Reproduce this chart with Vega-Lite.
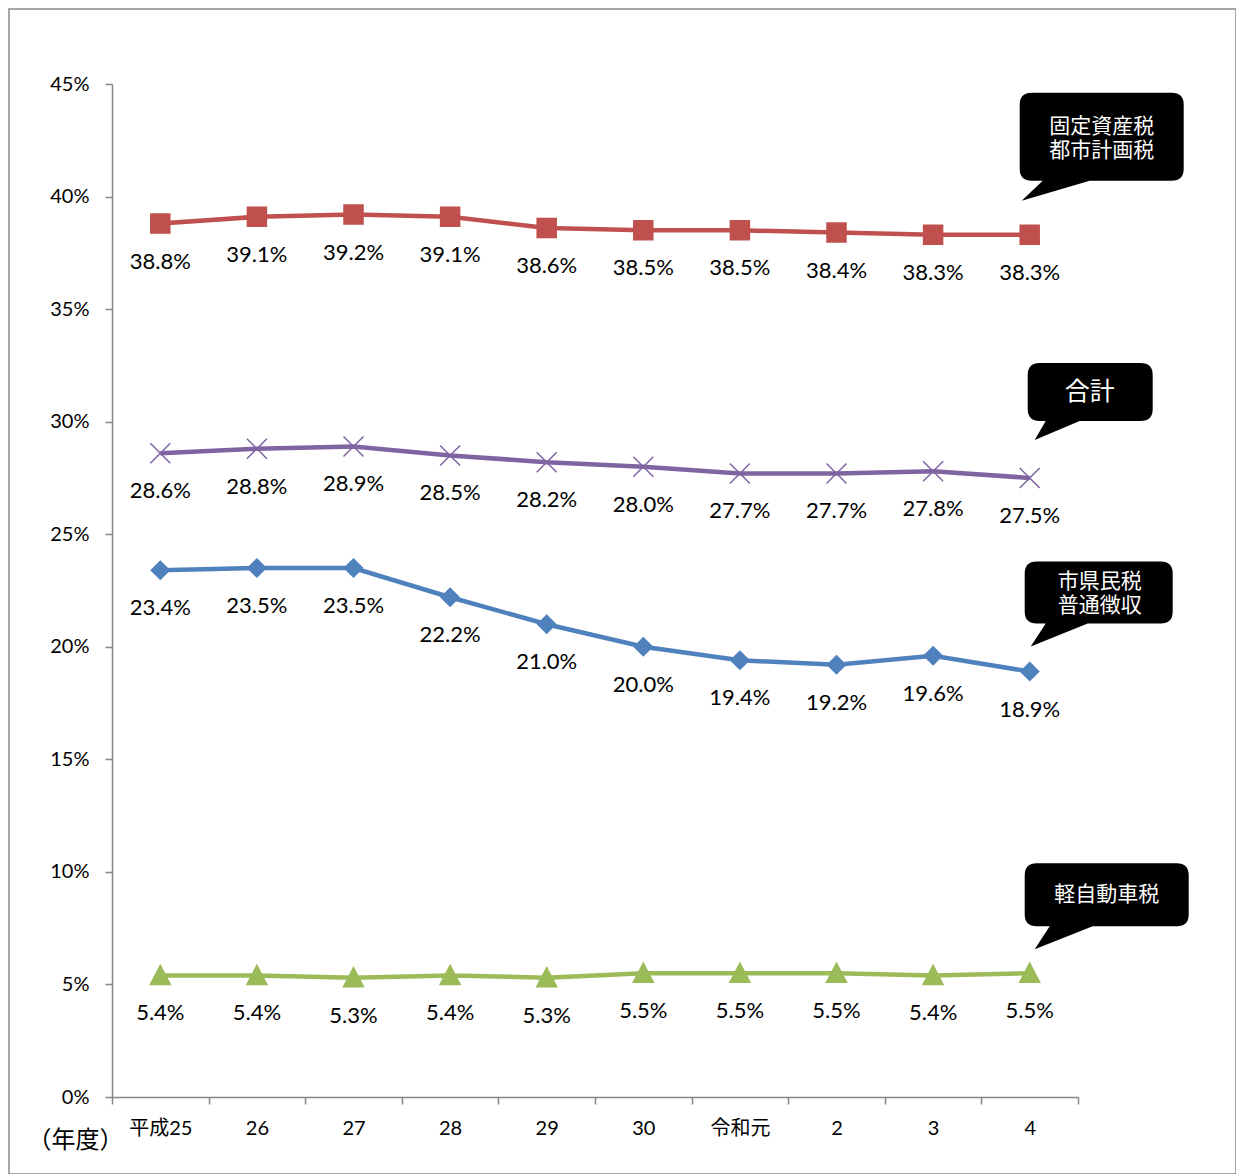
{
  "$schema": "https://vega.github.io/schema/vega-lite/v6.json",
  "width": 1227,
  "height": 1165,
  "autosize": {"type": "none"},
  "padding": {"left": 9, "top": 9, "right": 0, "bottom": 0},
  "background": "white",
  "config": {"view": {"stroke": "#8a8a8a", "strokeWidth": 1.5}, "font": "Lato"},
  "data": {"values": [
    {"year": "平成25", "series": "固定資産税・都市計画税", "v": 0.388},
    {"year": "26", "series": "固定資産税・都市計画税", "v": 0.391},
    {"year": "27", "series": "固定資産税・都市計画税", "v": 0.392},
    {"year": "28", "series": "固定資産税・都市計画税", "v": 0.391},
    {"year": "29", "series": "固定資産税・都市計画税", "v": 0.386},
    {"year": "30", "series": "固定資産税・都市計画税", "v": 0.385},
    {"year": "令和元", "series": "固定資産税・都市計画税", "v": 0.385},
    {"year": "2", "series": "固定資産税・都市計画税", "v": 0.384},
    {"year": "3", "series": "固定資産税・都市計画税", "v": 0.383},
    {"year": "4", "series": "固定資産税・都市計画税", "v": 0.383},
    {"year": "平成25", "series": "合計", "v": 0.286},
    {"year": "26", "series": "合計", "v": 0.288},
    {"year": "27", "series": "合計", "v": 0.289},
    {"year": "28", "series": "合計", "v": 0.285},
    {"year": "29", "series": "合計", "v": 0.282},
    {"year": "30", "series": "合計", "v": 0.280},
    {"year": "令和元", "series": "合計", "v": 0.277},
    {"year": "2", "series": "合計", "v": 0.277},
    {"year": "3", "series": "合計", "v": 0.278},
    {"year": "4", "series": "合計", "v": 0.275},
    {"year": "平成25", "series": "市県民税普通徴収", "v": 0.234},
    {"year": "26", "series": "市県民税普通徴収", "v": 0.235},
    {"year": "27", "series": "市県民税普通徴収", "v": 0.235},
    {"year": "28", "series": "市県民税普通徴収", "v": 0.222},
    {"year": "29", "series": "市県民税普通徴収", "v": 0.210},
    {"year": "30", "series": "市県民税普通徴収", "v": 0.200},
    {"year": "令和元", "series": "市県民税普通徴収", "v": 0.194},
    {"year": "2", "series": "市県民税普通徴収", "v": 0.192},
    {"year": "3", "series": "市県民税普通徴収", "v": 0.196},
    {"year": "4", "series": "市県民税普通徴収", "v": 0.189},
    {"year": "平成25", "series": "軽自動車税", "v": 0.054},
    {"year": "26", "series": "軽自動車税", "v": 0.054},
    {"year": "27", "series": "軽自動車税", "v": 0.053},
    {"year": "28", "series": "軽自動車税", "v": 0.054},
    {"year": "29", "series": "軽自動車税", "v": 0.053},
    {"year": "30", "series": "軽自動車税", "v": 0.055},
    {"year": "令和元", "series": "軽自動車税", "v": 0.055},
    {"year": "2", "series": "軽自動車税", "v": 0.055},
    {"year": "3", "series": "軽自動車税", "v": 0.054},
    {"year": "4", "series": "軽自動車税", "v": 0.055}
  ]},
  "encoding": {
    "x": {
      "field": "year", "type": "nominal",
      "scale": {"type": "band", "domain": ["平成25", "26", "27", "28", "29", "30", "令和元", "2", "3", "4"], "range": [103, 1069], "paddingInner": 0, "paddingOuter": 0},
      "axis": {
        "title": "（年度）", "orient": "bottom", "offset": -77, "tickBand": "extent", "labelAngle": 0, "grid": false,
        "domainColor": "#868686", "domainWidth": 1.5, "tickColor": "#868686", "tickWidth": 1.5, "tickSize": 7,
        "labelPadding": 14, "labelFontSize": 20, "labelFont": "Lato, Noto Sans CJK JP", "labelColor": "#000",
        "titleFont": "Noto Sans CJK JP", "titleFontSize": 24, "titleFontWeight": "normal", "titleColor": "#000",
        "titleX": 66, "titleY": 43, "titleAlign": "center", "titleBaseline": "middle", "titleAnchor": null
      }
    },
    "y": {
      "field": "v", "type": "quantitative",
      "scale": {"domain": [0, 0.45], "range": [1088, 75], "nice": false, "zero": true},
      "axis": {
        "title": null, "orient": "left", "offset": -103, "grid": false,
        "values": [0, 0.05, 0.1, 0.15, 0.2, 0.25, 0.3, 0.35, 0.4, 0.45], "format": ".0%",
        "domainColor": "#868686", "domainWidth": 1.5, "tickColor": "#868686", "tickWidth": 1.5, "tickSize": 7,
        "labelPadding": 16, "labelFontSize": 20, "labelFont": "Lato", "labelColor": "#000"
      }
    }
  },
  "layer": [
    {
      "mark": {"type": "line", "strokeWidth": 4.5},
      "encoding": {
        "color": {"field": "series", "type": "nominal", "legend": null,
          "scale": {"domain": ["固定資産税・都市計画税", "合計", "市県民税普通徴収", "軽自動車税"], "range": ["#C0504D", "#8064A2", "#4F81BD", "#9BBB59"]}}
      }
    },
    {
      "mark": {"type": "point", "filled": true, "size": 400, "strokeWidth": 1.5, "opacity": 1},
      "encoding": {
        "color": {"field": "series", "type": "nominal", "legend": null,
          "scale": {"domain": ["固定資産税・都市計画税", "合計", "市県民税普通徴収", "軽自動車税"], "range": ["#C0504D", "#8064A2", "#4F81BD", "#9BBB59"]}},
        "stroke": {"field": "series", "type": "nominal", "legend": null,
          "scale": {"domain": ["固定資産税・都市計画税", "合計", "市県民税普通徴収", "軽自動車税"], "range": ["#C0504D", "#8064A2", "#4F81BD", "#9BBB59"]}},
        "shape": {"field": "series", "type": "nominal", "legend": null,
          "scale": {"domain": ["固定資産税・都市計画税", "合計", "市県民税普通徴収", "軽自動車税"], "range": ["M-0.95,-0.95H0.95V0.95H-0.95Z", "M-1,-1L1,1M-1,1L1,-1", "M0,-0.9L0.9,0L0,0.9L-0.9,0Z", "M0,-1L1,0.9L-1,0.9Z"]}}
      }
    },
    {
      "mark": {"type": "text", "dy": 38, "fontSize": 22, "font": "Lato", "color": "#000", "align": "center", "baseline": "middle"},
      "encoding": {"text": {"field": "v", "type": "quantitative", "format": ".1%"}}
    },
    {
      "transform": [{"filter": "datum.year === '4' && datum.series === '固定資産税・都市計画税'"}],
      "mark": {"type": "point", "shape": "M2,-142H142Q154,-142 154,-130V-66Q154,-54 142,-54H60L-8,-34L13,-54H2Q-10,-54 -10,-66V-130Q-10,-142 2,-142Z", "size": 4, "filled": true, "color": "#000", "opacity": 1, "strokeWidth": 0}
    },
    {
      "transform": [{"filter": "datum.year === '4' && datum.series === '合計'"}],
      "mark": {"type": "point", "shape": "M10,-115H111Q123,-115 123,-103V-69Q123,-57 111,-57H50L5,-38L16,-57H10Q-2,-57 -2,-69V-103Q-2,-115 10,-115Z", "size": 4, "filled": true, "color": "#000", "opacity": 1, "strokeWidth": 0}
    },
    {
      "transform": [{"filter": "datum.year === '4' && datum.series === '市県民税普通徴収'"}],
      "mark": {"type": "point", "shape": "M7,-110H131Q143,-110 143,-98V-60Q143,-48 131,-48H58L1,-25L16,-48H7Q-5,-48 -5,-60V-98Q-5,-110 7,-110Z", "size": 4, "filled": true, "color": "#000", "opacity": 1, "strokeWidth": 0}
    },
    {
      "transform": [{"filter": "datum.year === '4' && datum.series === '軽自動車税'"}],
      "mark": {"type": "point", "shape": "M7,-110H147Q159,-110 159,-98V-59Q159,-47 147,-47H63L5,-24L20,-47H7Q-5,-47 -5,-59V-98Q-5,-110 7,-110Z", "size": 4, "filled": true, "color": "#000", "opacity": 1, "strokeWidth": 0}
    },
    {
      "transform": [{"filter": "datum.year === '4' && datum.series === '固定資産税・都市計画税'"}],
      "mark": {"type": "text", "text": ["固定資産税", "都市計画税"], "dx": 72, "dy": -108, "font": "Noto Sans CJK JP", "fontSize": 21, "lineHeight": 24, "color": "#fff", "align": "center", "baseline": "middle"}
    },
    {
      "transform": [{"filter": "datum.year === '4' && datum.series === '合計'"}],
      "mark": {"type": "text", "text": "合計", "dx": 60, "dy": -86, "font": "Noto Sans CJK JP", "fontSize": 25, "color": "#fff", "align": "center", "baseline": "middle"}
    },
    {
      "transform": [{"filter": "datum.year === '4' && datum.series === '市県民税普通徴収'"}],
      "mark": {"type": "text", "text": ["市県民税", "普通徴収"], "dx": 70, "dy": -90, "font": "Noto Sans CJK JP", "fontSize": 21, "lineHeight": 24, "color": "#fff", "align": "center", "baseline": "middle"}
    },
    {
      "transform": [{"filter": "datum.year === '4' && datum.series === '軽自動車税'"}],
      "mark": {"type": "text", "text": "軽自動車税", "dx": 77, "dy": -78, "font": "Noto Sans CJK JP", "fontSize": 21, "color": "#fff", "align": "center", "baseline": "middle"}
    }
  ]
}
